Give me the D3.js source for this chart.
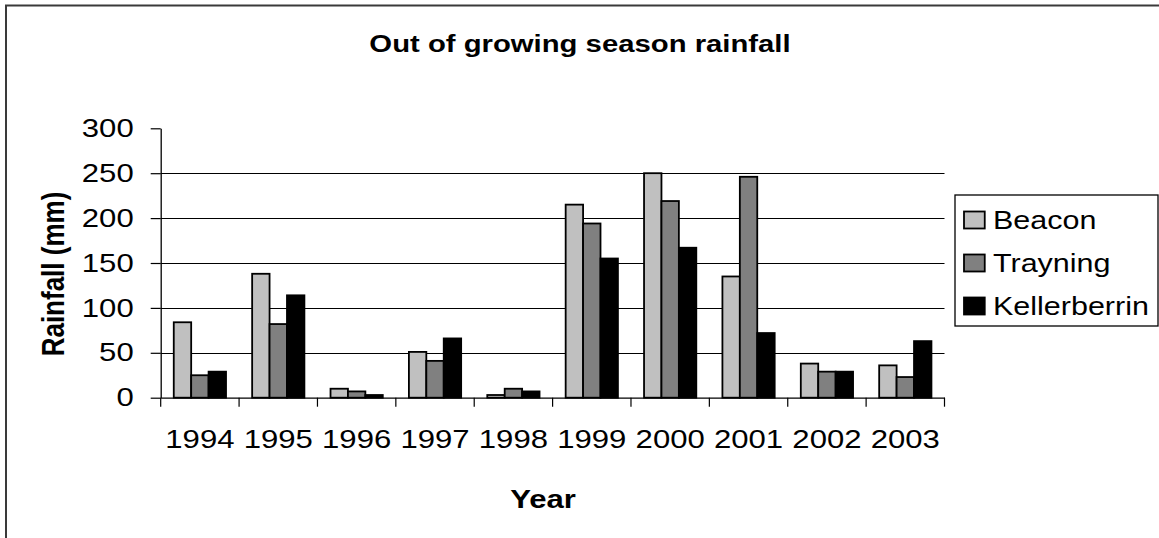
<!DOCTYPE html>
<html>
<head>
<meta charset="utf-8">
<script src="https://cdn.jsdelivr.net/npm/d3@7"></script>
<style>
  html, body { margin: 0; padding: 0; background: #fff; }
  svg { display: block; font-family: Arial, "Liberation Sans", sans-serif; }
</style>
</head>
<body>
<svg id="chart" width="1159" height="538"></svg>
<script>
// Out-of-season rainfall (mm) by year at three sites
const years = ["1994","1995","1996","1997","1998","1999","2000","2001","2002","2003"];
const seriesNames = ["Beacon", "Trayning", "Kellerberrin"];
const beacon       = [84, 138, 10, 51, 3, 215, 250, 135, 38, 36];
const trayning     = [25, 82, 7, 41, 10, 194, 219, 246, 29, 23];
const kellerberrin = [29, 114, 3, 66, 7, 155, 167, 72, 29, 63];
const yTicks = [0, 50, 100, 150, 200, 250, 300];
const seriesColors = ["#c0c0c0", "#808080", "#000000"];

const seriesValues = [beacon, trayning, kellerberrin];
const rows = years.map((y, i) => ({
  year: y,
  values: seriesNames.map((s, k) => ({ series: s, value: seriesValues[k][i] }))
}));

// Text in this chart is drawn slightly wide
const SX = 1.22;

const svg = d3.select("#chart");

// Outer chart frame
svg.append("rect")
  .attr("x", 6).attr("y", 5.5)
  .attr("width", 1165).attr("height", 545)
  .attr("fill", "none").attr("stroke", "#3a3a3a").attr("stroke-width", 2);

const plot = { left: 160.7, right: 944.5, top: 128.3, bottom: 397.7 };

const x = d3.scaleBand().domain(years).range([plot.left, plot.right]).padding(0);
const xSub = d3.scaleBand().domain(seriesNames).range([0, x.bandwidth()])
  .paddingInner(0).paddingOuter(0.75);
const y = d3.scaleLinear().domain([0, 300]).range([plot.bottom, plot.top]);
const color = d3.scaleOrdinal().domain(seriesNames).range(seriesColors);

function widen(sel) {
  sel.each(function () {
    const t = d3.select(this);
    const xv = +(t.attr("x") || 0);
    t.attr("x", xv / SX).attr("transform", `scale(${SX},1)`);
  });
}

// Horizontal gridlines
svg.append("g")
  .selectAll("line")
  .data(yTicks.filter(v => v > 0 && v < 300))
  .join("line")
  .attr("x1", plot.left).attr("x2", plot.right)
  .attr("y1", d => Math.round(y(d)) + 0.5).attr("y2", d => Math.round(y(d)) + 0.5)
  .attr("stroke", "#000").attr("stroke-width", 1);

// Bars
const groups = svg.append("g")
  .selectAll("g")
  .data(rows)
  .join("g")
  .attr("transform", d => `translate(${x(d.year)},0)`);

groups.selectAll("rect")
  .data(d => d.values)
  .join("rect")
  .attr("x", d => xSub(d.series))
  .attr("width", xSub.bandwidth())
  .attr("y", d => y(d.value))
  .attr("height", d => y(0) - y(d.value))
  .attr("fill", d => color(d.series))
  .attr("stroke", "#000")
  .attr("stroke-width", 1.8);

// Y axis
const yAxis = svg.append("g")
  .attr("transform", `translate(${plot.left},0)`)
  .call(d3.axisLeft(y).tickValues(yTicks).tickSize(10).tickPadding(17).tickSizeOuter(0));
yAxis.select(".domain").attr("stroke", "#000").attr("stroke-width", 1.3);
yAxis.selectAll(".tick line").attr("stroke", "#000").attr("stroke-width", 1.2);
yAxis.selectAll(".tick text")
  .attr("font-size", 25.5).attr("fill", "#000")
  .attr("font-family", "Arial, 'Liberation Sans', sans-serif")
  .call(widen);

// X axis: category labels
const xAxis = svg.append("g")
  .attr("transform", `translate(0,${plot.bottom})`)
  .call(d3.axisBottom(x).tickSize(0).tickPadding(0).tickSizeOuter(0));
xAxis.select(".domain").attr("stroke", "#000").attr("stroke-width", 1.3);
xAxis.selectAll(".tick text")
  .attr("font-size", 25.5).attr("fill", "#000")
  .attr("font-family", "Arial, 'Liberation Sans', sans-serif")
  .attr("dy", null).attr("y", 50.5)
  .call(widen);

// X axis: tick marks between categories
const boundaries = years.map(d => x(d)).concat([x.range()[1]]);
svg.append("g")
  .selectAll("line")
  .data(boundaries)
  .join("line")
  .attr("x1", d => d).attr("x2", d => d)
  .attr("y1", plot.bottom).attr("y2", plot.bottom + 9)
  .attr("stroke", "#000").attr("stroke-width", 1.2);

// Title
svg.append("text")
  .attr("x", 580 / SX).attr("y", 52)
  .attr("transform", `scale(${SX},1)`)
  .attr("text-anchor", "middle")
  .attr("font-size", 24).attr("font-weight", "bold")
  .text("Out of growing season rainfall");

// Axis titles
svg.append("text")
  .attr("x", 543 / SX).attr("y", 508)
  .attr("transform", `scale(${SX},1)`)
  .attr("text-anchor", "middle")
  .attr("font-size", 25.5).attr("font-weight", "bold")
  .text("Year");

svg.append("text")
  .attr("transform", `translate(64,274) scale(${SX},1) rotate(-90)`)
  .attr("text-anchor", "middle")
  .attr("font-size", 26).attr("font-weight", "bold")
  .text("Rainfall (mm)");

// Legend
const legend = svg.append("g");
legend.append("rect")
  .attr("x", 955).attr("y", 195).attr("width", 203).attr("height", 131)
  .attr("fill", "#fff").attr("stroke", "#000").attr("stroke-width", 1.3);

const item = legend.selectAll("g.item")
  .data(seriesNames)
  .join("g")
  .attr("class", "item")
  .attr("transform", (d, i) => `translate(964,${220 + i * 43})`);

item.append("rect")
  .attr("x", 0).attr("y", -8.5)
  .attr("width", 17 * SX).attr("height", 17)
  .attr("fill", d => color(d))
  .attr("stroke", "#000").attr("stroke-width", 1.8);

item.append("text")
  .attr("x", 29 / SX).attr("y", 9)
  .attr("transform", `scale(${SX},1)`)
  .attr("font-size", 25)
  .text(d => d);
</script>
</body>
</html>
